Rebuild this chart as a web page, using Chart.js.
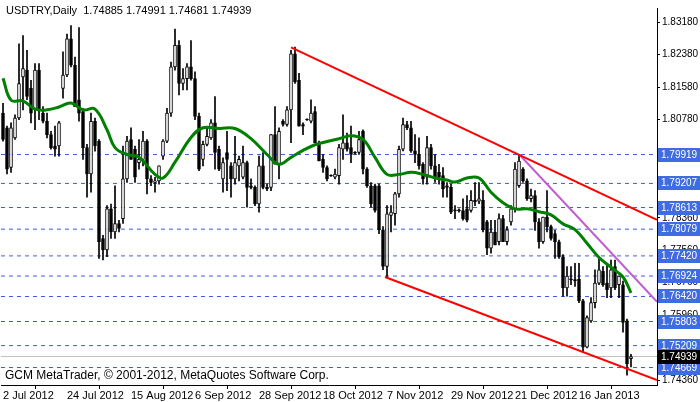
<!DOCTYPE html>
<html>
<head>
<meta charset="utf-8">
<script src="https://cdn.jsdelivr.net/npm/chart.js@4.4.1/dist/chart.umd.min.js"></script>
<style>
  html, body { margin: 0; padding: 0; background: #fff; }
  #wrap { width: 700px; height: 402px; }
</style>
</head>
<body>
<div id="wrap"><canvas id="chart" width="700" height="402"></canvas></div>
<script>
// daily USDTRY candles (index 0 = 2 Jul 2012)
const opens = [
  1.8094,1.8058,1.7960,1.8033,1.8082,1.8183,1.8200,1.8155,1.8102,1.8200,
  1.8094,1.8074,1.8041,1.8013,1.8013,1.8155,1.8188,1.8277,1.8212,1.8127,
  1.8098,1.8009,1.7944,1.8074,1.8025,1.7785,1.7757,1.7858,1.7801,1.7822,
  1.7834,1.7932,1.8029,1.8005,1.7972,1.7980,1.8025,1.7932,1.7923,1.7927,
  1.7988,1.8025,1.8094,1.8208,1.8261,1.8167,1.8179,1.8208,1.8179,1.8086,
  1.7980,1.8017,1.8033,1.8070,1.8005,1.7932,1.7997,1.7964,1.7932,1.7964,
  1.7936,1.7972,1.7915,1.7911,1.7870,1.7964,1.7911,1.7911,1.8041,1.7968,
  1.8074,1.8066,1.8102,1.8240,1.8175,1.8066,1.8079,1.8074,1.8098,1.8021,
  1.7980,1.7960,1.7941,1.7936,1.7940,1.8005,1.8021,1.8009,1.7997,1.7997,
  1.8049,1.7956,1.7915,1.7915,1.7915,1.7806,1.7716,1.7842,1.7846,1.7895,
  1.8005,1.8066,1.8058,1.8001,1.7992,1.7968,1.7936,1.8009,1.7964,1.7948,
  1.7940,1.7915,1.7911,1.7855,1.7855,1.7854,1.7858,1.7854,1.7879,1.7877,
  1.7879,1.7826,1.7761,1.7801,1.7777,1.7834,1.7777,1.7826,1.7858,1.7915,
  1.7956,1.7927,1.7883,1.7891,1.7826,1.7777,1.7838,1.7814,1.7797,1.7777,
  1.7740,1.7663,1.7685,1.7683,1.7684,1.7631,1.7517,1.7582,1.7627,1.7675,
  1.7704,1.7675,1.7663,1.7716,1.7671,1.7671,1.7582,1.74885
];
const highs = [
  1.8118,1.8062,1.8070,1.8090,1.8265,1.8285,1.8249,1.8175,1.8216,1.8216,
  1.8110,1.8094,1.8049,1.8062,1.8074,1.8245,1.8289,1.8310,1.8232,1.8305,
  1.8106,1.8017,1.8094,1.8082,1.8029,1.7793,1.7866,1.7870,1.7915,1.7830,
  1.8013,1.8037,1.8058,1.8013,1.8029,1.8049,1.8029,1.7940,1.7936,1.7964,
  1.8029,1.8106,1.8220,1.8301,1.8273,1.8204,1.8216,1.8273,1.8196,1.8094,
  1.8025,1.8058,1.8078,1.8135,1.8013,1.7984,1.8049,1.7972,1.8037,1.7988,
  1.8013,1.7976,1.7932,1.7915,1.7988,1.7997,1.7919,1.8041,1.8110,1.8058,
  1.8078,1.8110,1.8249,1.8257,1.8192,1.8070,1.8080,1.8127,1.8110,1.8025,
  1.7992,1.7964,1.7942,1.7956,1.8017,1.8090,1.8045,1.8062,1.7999,1.8049,
  1.8053,1.7960,1.7923,1.7919,1.7919,1.7814,1.7866,1.7866,1.7899,1.8013,
  1.8082,1.8074,1.8074,1.8041,1.8033,1.7972,1.8037,1.8017,1.7992,1.7968,
  1.7960,1.7923,1.7919,1.7866,1.7858,1.7883,1.7891,1.7903,1.7923,1.7923,
  1.7903,1.7830,1.7830,1.7830,1.7846,1.7842,1.7814,1.7866,1.7972,1.7992,
  1.7960,1.7932,1.7907,1.7903,1.7834,1.7838,1.7903,1.7818,1.7805,1.7781,
  1.7745,1.7716,1.7716,1.7724,1.7724,1.7635,1.7594,1.7639,1.7708,1.7740,
  1.7716,1.7724,1.7732,1.7732,1.7692,1.7680,1.7586,1.74991
];
const lows = [
  1.8025,1.7944,1.7948,1.8029,1.8078,1.8102,1.8127,1.8070,1.8053,1.8078,
  1.8070,1.8033,1.8005,1.7988,1.7988,1.8131,1.8184,1.8208,1.8110,1.8074,
  1.7980,1.7887,1.7899,1.8000,1.7736,1.7732,1.7740,1.7785,1.7785,1.7801,
  1.7822,1.7923,1.7980,1.7923,1.7956,1.7964,1.7895,1.7915,1.7899,1.7919,
  1.7980,1.8021,1.8086,1.8200,1.8139,1.8151,1.8151,1.8175,1.8078,1.7952,
  1.7964,1.8013,1.8029,1.7956,1.7952,1.7899,1.7903,1.7887,1.7919,1.7927,
  1.7932,1.7862,1.7907,1.7866,1.7850,1.7907,1.7903,1.7903,1.7968,1.7932,
  1.8062,1.8062,1.8021,1.8167,1.8062,1.8041,1.8076,1.8070,1.8021,1.7976,
  1.7948,1.7927,1.7938,1.7932,1.7919,1.7980,1.8000,1.7972,1.7993,1.7992,
  1.7944,1.7911,1.7862,1.7850,1.7797,1.7708,1.7688,1.7801,1.7818,1.7887,
  1.8001,1.8053,1.7997,1.7972,1.7956,1.7919,1.7919,1.7956,1.7923,1.7919,
  1.7887,1.7887,1.7846,1.7834,1.7850,1.7830,1.7826,1.7850,1.7866,1.7871,
  1.7801,1.7745,1.7749,1.7769,1.7769,1.7777,1.7769,1.7818,1.7850,1.7911,
  1.7923,1.7879,1.7875,1.7805,1.7761,1.7773,1.7801,1.7781,1.7736,1.7736,
  1.7643,1.7643,1.7671,1.7667,1.7627,1.7505,1.7515,1.7578,1.7614,1.7671,
  1.7667,1.7639,1.7639,1.7659,1.7639,1.7554,1.7448,1.74681
];
const closes = [
  1.8029,1.7956,1.8058,1.8082,1.8167,1.8204,1.8135,1.8094,1.8200,1.8102,
  1.8074,1.8041,1.8009,1.8005,1.8070,1.8188,1.8277,1.8212,1.8110,1.8094,
  1.8009,1.7944,1.8074,1.8013,1.7777,1.7757,1.7858,1.7801,1.7822,1.7810,
  1.7932,1.8025,1.7980,1.7936,1.7980,1.8025,1.7932,1.7923,1.7927,1.7964,
  1.8025,1.8094,1.8208,1.8261,1.8167,1.8179,1.8208,1.8179,1.8086,1.7956,
  1.8017,1.8037,1.8070,1.7997,1.7956,1.7972,1.7980,1.7932,1.7972,1.7980,
  1.7972,1.7911,1.7911,1.7870,1.7964,1.7911,1.7907,1.8041,1.7968,1.8049,
  1.8066,1.8102,1.8240,1.8171,1.8062,1.8062,1.8077,1.8094,1.8021,1.7976,
  1.7960,1.7932,1.7939,1.7944,1.8009,1.8021,1.8005,1.7992,1.7995,1.8029,
  1.7956,1.7915,1.7870,1.7854,1.7806,1.7716,1.7846,1.7850,1.7895,1.8005,
  1.8066,1.8058,1.8001,1.7992,1.7964,1.7932,1.8009,1.7964,1.7932,1.7936,
  1.7907,1.7911,1.7850,1.7853,1.7853,1.7834,1.7830,1.7879,1.7875,1.7883,
  1.7806,1.7761,1.7801,1.7769,1.7834,1.7777,1.7806,1.7858,1.7956,1.7976,
  1.7927,1.7883,1.7891,1.7826,1.7777,1.7838,1.7814,1.7785,1.7777,1.7740,
  1.7663,1.7692,1.7683,1.7681,1.7631,1.7517,1.7590,1.7627,1.7675,1.7708,
  1.7671,1.7659,1.7708,1.7663,1.7692,1.7578,1.7476,1.74939
];

// moving average, sampled off the green curve
const maIndex = [0,2,5,8,11,14,17,20,23,26,28,31,34,38,40,43,47,50,54,58,62,66,69,72,75,78,81,84,87,90,
  93,96,99,102,105,108,111,113,116,119,122,125,128,131,134,137,140,143,146,149,152,155,157];
const maValues = [1.8180,1.8126,1.8124,1.8104,1.8102,1.8109,1.8119,1.8102,1.8104,1.8053,1.8009,1.7992,1.7985,
  1.7943,1.7934,1.7973,1.8034,1.8058,1.8056,1.8056,1.8031,1.7992,1.7968,1.7985,1.8002,1.8016,1.8024,1.8031,
  1.8038,1.8029,1.7985,1.7943,1.7943,1.7948,1.7943,1.7934,1.7929,1.7924,1.7934,1.7934,1.7899,1.7873,1.7858,
  1.7858,1.7851,1.7843,1.7821,1.7807,1.7773,1.7738,1.7714,1.7690,1.7651];

// trend lines: [index, price] at each end
const upperChannel = [[72, 1.8256], [163.5, 1.7831]];
const lowerChannel = [[95.5, 1.7690], [163.5, 1.7436]];
const innerLine = [[129.25, 1.7990], [163.5, 1.7629]];

const levels = [1.79919, 1.79207, 1.78613, 1.78079, 1.77420, 1.76924, 1.76420, 1.75803, 1.75209, 1.74669];
const lastPrice = 1.74939;
const yTicks = [1.83180, 1.82380, 1.81580, 1.80780, 1.78360, 1.77560, 1.76760, 1.75960, 1.74360];
const xTickIndex = [0, 16, 32, 48, 64, 80, 96, 112, 128, 144];
const xTickLabels = ["2 Jul 2012", "24 Jul 2012", "15 Aug 2012", "6 Sep 2012", "28 Sep 2012",
  "18 Oct 2012", "7 Nov 2012", "29 Nov 2012", "21 Dec 2012", "16 Jan 2013"];

const FONT = "'Liberation Sans', Arial, sans-serif";
const X_MIN = -0.5, X_MAX = 163.5;

const bodies = opens.map((o, i) => ({ x: i, y: [Math.min(o, closes[i]), Math.max(o, closes[i])] }));
const wicks = highs.map((h, i) => ({ x: i, y: [lows[i], h] }));
const bodyFill = opens.map((o, i) => (closes[i] >= o ? "#ffffff" : "#000000"));
const toPts = (arr) => arr.map((p) => ({ x: p[0], y: p[1] }));

const levelSets = levels.map((v) => ({
  type: "line",
  data: [{ x: X_MIN, y: v }, { x: X_MAX, y: v }],
  borderColor: "#3a5fe0",
  borderWidth: 1,
  borderDash: [4, 4],
  pointRadius: 0,
  order: 5,
}));

const sideLabels = {
  id: "sideLabels",
  afterDraw(chart) {
    const { ctx, chartArea, scales } = chart;
    ctx.save();
    ctx.font = "10px " + FONT;
    ctx.textBaseline = "middle";
    const drawBox = (v, fill) => {
      const y = Math.round(scales.y.getPixelForValue(v));
      ctx.fillStyle = fill;
      ctx.fillRect(chartArea.right + 1, y - 7, 42, 14);
      ctx.fillStyle = "#ffffff";
      ctx.fillText(v.toFixed(5), chartArea.right + 4, y);
    };
    levels.forEach((v) => drawBox(v, "#3f6ce0"));
    drawBox(lastPrice, "#000000");
    ctx.fillStyle = "#000";
    ctx.font = "11px " + FONT;
    ctx.fillText("USDTRY,Daily  1.74885 1.74991 1.74681 1.74939", 6, 11);
    ctx.font = "12px " + FONT;
    ctx.fillText("GCM MetaTrader, © 2001-2012, MetaQuotes Software Corp.", 5, 376);
    ctx.restore();
  },
};

new Chart(document.getElementById("chart"), {
  type: "bar",
  data: {
    datasets: [
      {
        data: bodies,
        backgroundColor: bodyFill,
        borderColor: "#000",
        borderWidth: 1,
        borderSkipped: false,
        barThickness: 3,
        minBarLength: 1,
        grouped: false,
        order: 1,
      },
      {
        data: wicks,
        backgroundColor: "#000",
        barThickness: 1,
        grouped: false,
        order: 2,
      },
      {
        type: "line",
        data: maIndex.map((x, i) => ({ x, y: maValues[i] })),
        borderColor: "#008000",
        borderWidth: 3,
        tension: 0.4,
        pointRadius: 0,
        order: 0,
      },
      { type: "line", data: toPts(upperChannel), borderColor: "#ff0000", borderWidth: 2, pointRadius: 0, order: 0 },
      { type: "line", data: toPts(lowerChannel), borderColor: "#ff0000", borderWidth: 2, pointRadius: 0, order: 0 },
      { type: "line", data: toPts(innerLine), borderColor: "#c060d0", borderWidth: 2, pointRadius: 0, order: 0 },
      {
        type: "line",
        data: [{ x: X_MIN, y: lastPrice }, { x: X_MAX, y: lastPrice }],
        borderColor: "#c0c0c0",
        borderWidth: 1,
        pointRadius: 0,
        order: 6,
      },
      ...levelSets,
    ],
  },
  options: {
    responsive: false,
    animation: false,
    devicePixelRatio: 1,
    layout: { padding: { left: 1, top: 3, right: 0, bottom: 0 } },
    plugins: { legend: { display: false }, tooltip: { enabled: false } },
    scales: {
      x: {
        type: "linear",
        min: X_MIN,
        max: X_MAX,
        offset: false,
        afterBuildTicks: (s) => { s.ticks = xTickIndex.map((v) => ({ value: v })); },
        afterFit: (s) => { s.height = 17; },
        ticks: {
          autoSkip: false,
          maxRotation: 0,
          align: "start",
          padding: 0,
          color: "#000",
          font: { family: FONT, size: 11 },
          callback: (v) => xTickLabels[xTickIndex.indexOf(v)] || "",
        },
        grid: { drawOnChartArea: false, drawTicks: true, tickLength: 4, color: "#000" },
        border: { color: "#000", width: 1 },
      },
      y: {
        position: "right",
        min: 1.74238,
        max: 1.83531,
        afterBuildTicks: (s) => { s.ticks = yTicks.map((v) => ({ value: v })); },
        afterFit: (s) => { s.width = 43; },
        ticks: {
          padding: 2,
          color: "#000",
          font: { family: FONT, size: 10 },
          callback: (v) => v.toFixed(5),
        },
        grid: { drawOnChartArea: false, drawTicks: true, tickLength: 3, color: "#000" },
        border: { color: "#000", width: 1 },
      },
    },
  },
  plugins: [sideLabels],
});
</script>
</body>
</html>
